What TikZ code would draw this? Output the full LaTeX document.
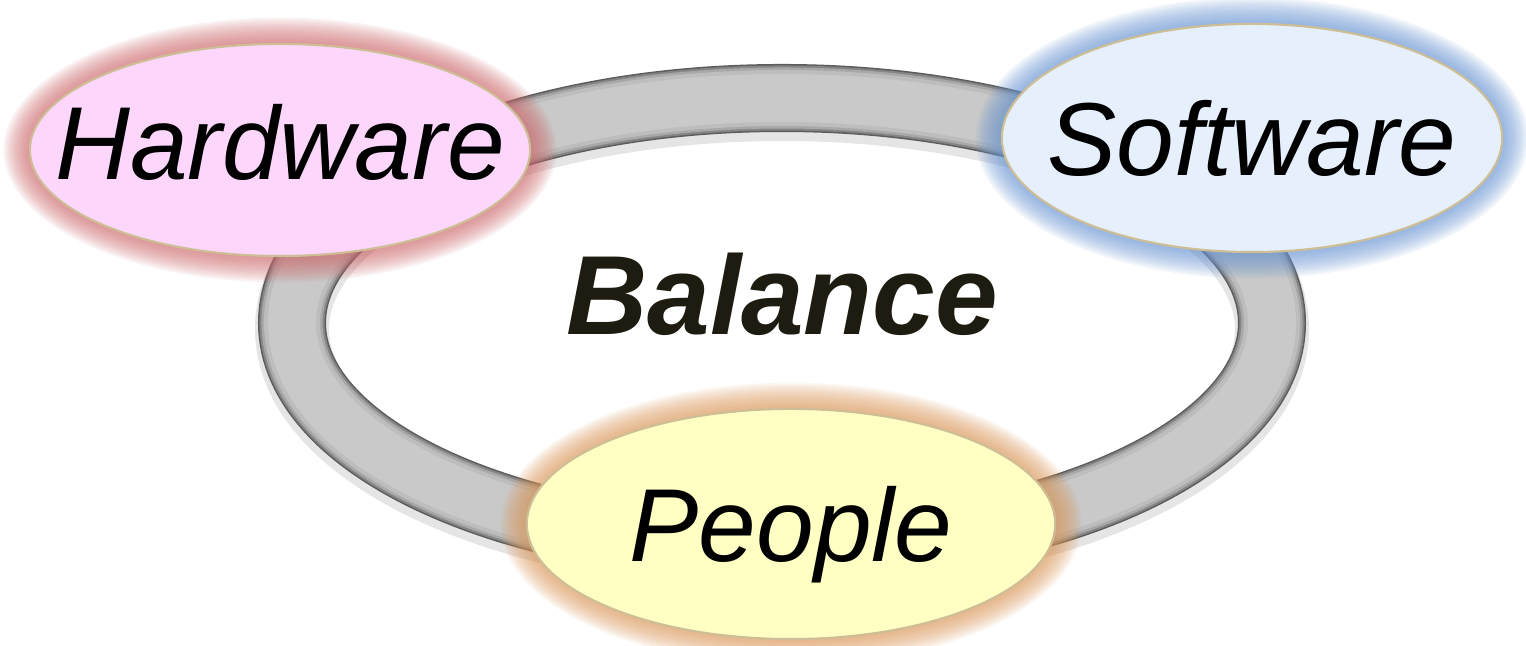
\documentclass[tikz,border=0pt]{standalone}
\usepackage{fontspec}
\setmainfont{Liberation Sans}
\usetikzlibrary{shapes.geometric,backgrounds}

\definecolor{hwfill}{RGB}{253,214,252}
\definecolor{hwglow}{RGB}{205,105,108}
\definecolor{swfill}{RGB}{230,240,252}
\definecolor{swglow}{RGB}{105,148,210}
\definecolor{ppfill}{RGB}{255,255,196}
\definecolor{ppglow}{RGB}{218,150,88}
\definecolor{rimline}{RGB}{205,190,150}
\definecolor{balink}{RGB}{30,28,16}

\tikzset{
  part/.style={ellipse, draw=rimline, line width=0.6pt, inner sep=0pt,
    text depth=0pt, font=\itshape\fontsize{29.5}{30}\selectfont},
}

\begin{document}
\begin{tikzpicture}[x=0.01cm,y=0.01cm]
	\useasboundingbox (0,0) rectangle (1526,646);
	\coordinate (c) at (782,323);
	
	\node[part, fill=hwfill, minimum width=5cm, minimum height=2.12cm, text depth=0.16cm] (hw) at (280,496) {\makebox[0pt]{Hardware}};
	\node[part, fill=swfill, minimum width=5cm, minimum height=2.28cm] (sw) at (1252,508) {\makebox[0pt]{Software}};
	\node[part, fill=ppfill, minimum width=5.28cm, minimum height=2.3cm] (pp) at (791,122) {\makebox[0pt]{People}};
	\node[font=\bfseries\itshape\fontsize{32}{32}\selectfont, text=balink, text depth=0pt] (bal) at (782,352) {Balance};
	
	\begin{scope}[on background layer]
		% the grey tube round the middle
		\draw[line width=7.4mm, black, opacity=0.10] ([yshift=-0.06cm]c) ellipse [x radius=490, y radius=225];
		\foreach \w/\g in {6.8/64,6.5/48,6.1/34,5.6/26,4.8/21}
			\draw[line width=\w mm, black!\g] (c) ellipse [x radius=490, y radius=225];
		% soft halos behind the three ellipses
		\foreach \n/\col/\rx/\ry in {hw/hwglow/250/106, sw/swglow/250/114, pp/ppglow/264/115}{
			\foreach \k in {1,...,12}
				\fill[\col, opacity=0.09] (\n.center) ellipse [x radius=\rx+2.2*\k, y radius=\ry+2.2*\k];
		}
	\end{scope}
\end{tikzpicture}
\end{document}
